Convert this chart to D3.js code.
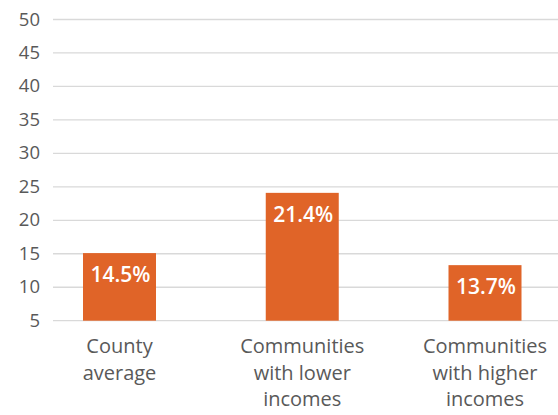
<!DOCTYPE html>
<html><head><meta charset="utf-8">
<script src="https://cdn.jsdelivr.net/npm/d3@7"></script>
<style>body{margin:0;background:#fff}</style>
</head><body>
<svg id="c" width="558" height="415"></svg>
<script>
const categories = [["County","average"],["Communities","with lower","incomes"],["Communities","with higher","incomes"]];
const barValues = [15.1, 24.1, 13.3];
const valueLabels = ["14.5%","21.4%","13.7%"];
const yTicks = [5,10,15,20,25,30,35,40,45,50];

const svg = d3.select("#c");
const font = "'Open Sans', sans-serif";
const y = d3.scaleLinear().domain([5,50]).range([320.7,19.5]);
const x = d3.scalePoint().domain(d3.range(categories.length)).range([119.5,485]);
const bw = 73;

const yAxis = d3.axisLeft(y).tickValues(yTicks).tickSize(0).tickPadding(0);
const g = svg.append("g").attr("transform","translate(40,0)").call(yAxis);
g.select(".domain").remove();
g.selectAll("text").attr("font-family",font).attr("font-size",18.5).attr("fill","#595959").attr("dy","0.3em").attr("x",0);

svg.append("g").selectAll("line").data(yTicks).join("line")
  .attr("x1",53).attr("x2",558).attr("y1",d=>y(d)).attr("y2",d=>y(d))
  .attr("stroke","#d9d9d9").attr("stroke-width",1.3);

svg.append("g").selectAll("rect").data(barValues).join("rect")
  .attr("x",(d,i)=>x(i)-bw/2).attr("width",bw)
  .attr("y",d=>y(d)).attr("height",d=>y(5)-y(d))
  .attr("fill","#E06428");

svg.append("g").selectAll("text").data(barValues).join("text")
  .attr("x",(d,i)=>x(i)+1).attr("y",d=>y(d)+29)
  .attr("text-anchor","middle").attr("font-family",font).attr("font-size",21)
  .attr("font-weight",600).attr("fill","#fff").text((d,i)=>valueLabels[i]);

const cl = svg.append("g").selectAll("text").data(categories).join("text")
  .attr("text-anchor","middle").attr("font-family",font).attr("font-size",20).attr("fill","#595959");
cl.selectAll("tspan").data((d,i)=>d.map(s=>({s,i}))).join("tspan")
  .attr("x",d=>x(d.i)).attr("y",(d,j)=>353+j*26.7).text(d=>d.s);
</script>
</body></html>
